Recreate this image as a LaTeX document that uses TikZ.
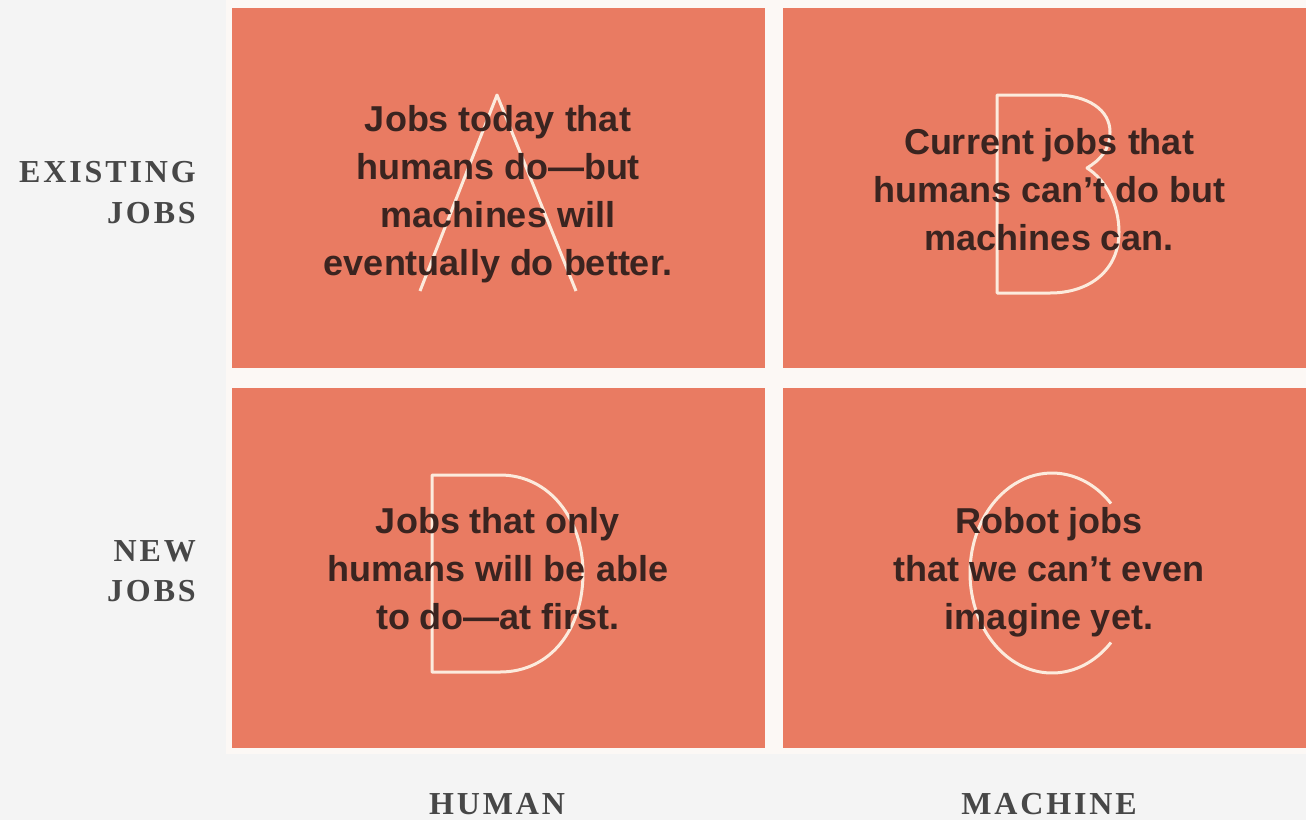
\documentclass[tikz,border=0pt]{standalone}
\usepackage{fontspec}
\setmainfont{Liberation Sans}
\newfontfamily\labfont[LetterSpace=9]{Liberation Serif}
\definecolor{bg}{HTML}{F4F4F4}
\definecolor{panel}{HTML}{E97B62}
\definecolor{gutter}{HTML}{FCF8F5}
\definecolor{ink}{HTML}{3A2420}
\definecolor{glyph}{HTML}{FCEBDD}
\definecolor{lab}{HTML}{474747}
\tikzset{
  panelbox/.style={fill=panel},
  glyphline/.style={draw=glyph, line width=3pt, line join=round},
  bodytext/.style={font=\bfseries\fontsize{36}{48}\selectfont, text=ink, align=center, inner sep=0pt},
  labtext/.style={font=\labfont\bfseries\fontsize{32}{41}\selectfont, text=lab, inner sep=0pt},
}
\begin{document}
\begin{tikzpicture}[x=1pt,y=-1pt]
\fill[bg] (0,0) rectangle (1306,820);
\useasboundingbox (0,0) rectangle (1306,820);
\fill[gutter] (226,0) rectangle (1306,754);
% panels
\fill[panelbox] (232,8) rectangle (765,368);
\fill[panelbox] (783,8) rectangle (1306,368);
\fill[panelbox] (232,388) rectangle (765,748);
\fill[panelbox] (783,388) rectangle (1306,748);
% letters
\draw[glyphline] (420,291) -- (497,95) -- (576,291);
\draw[glyphline] (997,293) -- (997,95) -- (1055,95)
  .. controls (1088,95) and (1110,110) .. (1110,132)
  .. controls (1110,150) and (1100,160) .. (1087,168)
  .. controls (1106,180) and (1119,205) .. (1119,232)
  .. controls (1119,270) and (1090,293) .. (1050,293) -- cycle;
\draw[glyphline] (432,475) -- (500,475)
  .. controls (550,475) and (583,520) .. (583,573)
  .. controls (583,630) and (550,672) .. (500,672) -- (432,672) -- cycle;
\draw[glyphline, shift={(1052,573)}] (44:82 and 100)
  arc[start angle=44, end angle=316, x radius=82, y radius=100];
% texts
\node[bodytext] (ta) at (498,194) {Jobs today that\\humans do—but\\machines will\\eventually do better.};
\node[bodytext] (tb) at (1049,190) {Current jobs that\\humans can’t do but\\machines can.};
\node[bodytext] (td) at (498,569) {Jobs that only\\humans will be able\\to do—at first.};
\node[bodytext] (tc) at (1049,572) {Robot jobs\\that we can’t even\\imagine yet.};
% labels
\node[labtext, anchor=base east] (lex1) at (196,182) {EXISTING};
\node[labtext, anchor=base east] (lex2) at (196,223) {JOBS};
\node[labtext, anchor=base east] (lnew1) at (196,561) {NEW};
\node[labtext, anchor=base east] (lnew2) at (196,601) {JOBS};
\node[labtext, anchor=base] (lhum) at (497,814) {HUMAN};
\node[labtext, anchor=base] (lmac) at (1049,814) {MACHINE};
\end{tikzpicture}
\end{document}
